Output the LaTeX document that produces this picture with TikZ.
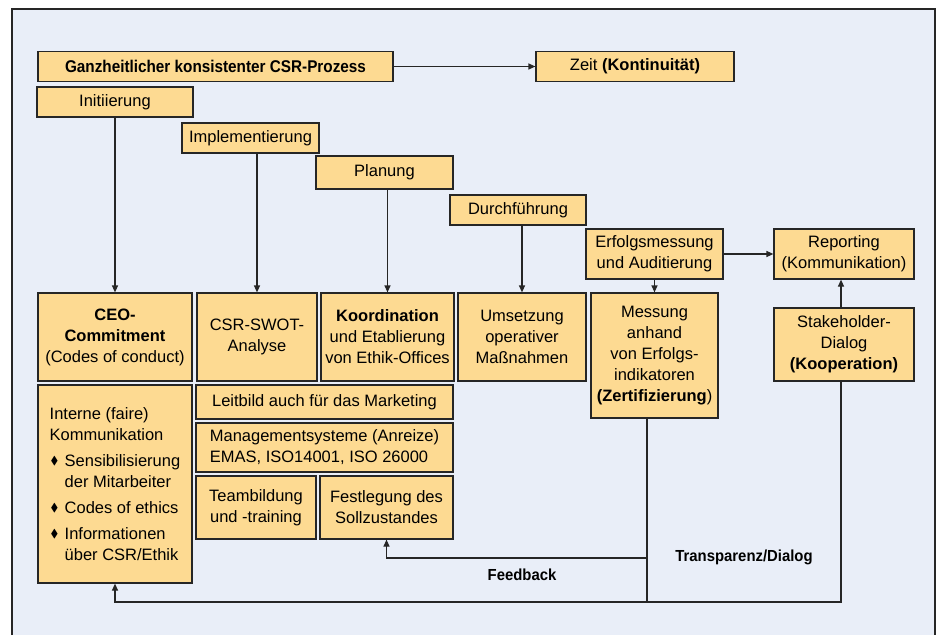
\documentclass[tikz,border=0pt]{standalone}
\usepackage{amssymb}
\usepackage{fontspec}
\setmainfont{Liberation Sans}
\usetikzlibrary{arrows.meta}
\definecolor{csrbg}{HTML}{E9EEF8}
\definecolor{boxfill}{HTML}{FDDA92}
\definecolor{ink}{HTML}{262626}
\newcommand{\csrbullet}{\makebox[15pt][l]{\hspace{1pt}\raisebox{1.5pt}{$\scriptstyle\blacklozenge$}}}

\begin{document}
\begin{tikzpicture}[x=1pt,y=-1pt,>={Triangle[length=7pt,width=6pt]}]
 \tikzstyle{stagebox}=[rectangle,draw=ink,line width=1.2pt,fill=boxfill,inner sep=2pt,align=center,font=\fontsize{16.5}{21}\selectfont,text=black]
 \tikzstyle{flowline}=[draw=ink,line width=1.2pt]
 \tikzstyle{notelabel}=[font=\fontsize{16}{20}\selectfont\bfseries\addfontfeature{FakeStretch=0.93},text=black]
 \useasboundingbox (0,0) rectangle (937,635);
 \fill[csrbg] (12,9) rectangle (935,635);
 \draw[ink,line width=1.3pt] (12,635) -- (12,9) -- (935,9) -- (935,635);
 \node[stagebox,minimum width=355pt,minimum height=30pt,font=\fontsize{17}{21}\selectfont\bfseries\addfontfeature{FakeStretch=0.9}] (prozess) at (215.5,66.5) {Ganzheitlicher konsistenter CSR-Prozess};
 \node[stagebox,minimum width=198pt,minimum height=30pt] (zeit) at (635,66.5) {Zeit \textbf{(Kontinuität)}};
 \node[stagebox,minimum width=156pt,minimum height=30pt] (init) at (115,102) {Initiierung};
 \node[stagebox,minimum width=137pt,minimum height=30pt] (impl) at (250.5,138) {Implementierung};
 \node[stagebox,minimum width=137pt,minimum height=33pt] (plan) at (384.5,172.5) {Planung};
 \node[stagebox,minimum width=136pt,minimum height=30pt] (durch) at (518,210) {Durchführung};
 \node[stagebox,minimum width=137pt,minimum height=50pt] (erfolg) at (654.5,254) {Erfolgsmessung\\und Auditierung};
 \node[stagebox,minimum width=140pt,minimum height=50pt] (report) at (844,254) {Reporting\\(Kommunikation)};
 \node[stagebox,minimum width=154pt,minimum height=88pt] (ceo) at (115,337) {\textbf{CEO-}\\\textbf{Commitment}\\(Codes of conduct)};
 \node[stagebox,minimum width=120pt,minimum height=88pt] (swot) at (257,337) {CSR-SWOT-\\Analyse};
 \node[stagebox,minimum width=133pt,minimum height=88pt] (koord) at (387.5,337) {\textbf{Koordination}\\und Etablierung\\von Ethik-Offices};
 \node[stagebox,minimum width=128pt,minimum height=88pt] (umsetz) at (522,337) {Umsetzung\\operativer\\Maßnahmen};
 \node[stagebox,minimum width=127pt,minimum height=125pt] (messung) at (654.5,355.5) {Messung\\anhand\\von Erfolgs-\\indikatoren\\\textbf{(Zertifizierung})};
 \node[stagebox,minimum width=140pt,minimum height=73pt] (stake) at (844,344.5) {Stakeholder-\\Dialog\\\textbf{(Kooperation)}};
 \node[stagebox,minimum width=154pt,minimum height=198pt,align=left] (interne) at (115,484) {Interne (faire)\\Kommunikation\\[5pt]\csrbullet Sensibilisierung\\\hspace*{15pt}der Mitarbeiter\\[5pt]\csrbullet Codes of ethics\\[5pt]\csrbullet Informationen\\\hspace*{15pt}über CSR/Ethik};
 \node[stagebox,minimum width=257pt,minimum height=34pt] (leitbild) at (324.5,402) {Leitbild auch für das Marketing};
 \node[stagebox,minimum width=257pt,minimum height=49pt,align=left] (manage) at (324.5,447.5) {Managementsysteme (Anreize)\\EMAS, ISO14001, ISO 26000};
 \node[stagebox,minimum width=120pt,minimum height=63pt] (team) at (256,507.5) {Teambildung\\und -training};
 \node[stagebox,minimum width=133pt,minimum height=63pt] (fest) at (386.5,507.5) {Festlegung des\\Sollzustandes};
 \node[notelabel] (fbtext) at (522,575) {Feedback};
 \node[notelabel] (trtext) at (744,557) {Transparenz/Dialog};
 \coordinate (tdx) at (841,602);
 \coordinate (fbx) at (647,602);
 \coordinate (fbk) at (647,558);
 \draw[flowline,->] (prozess) -- (zeit);
 \draw[flowline,->] (init) -- (ceo);
 \draw[flowline,->] (impl.south -| swot.north) -- (swot.north);
 \draw[flowline,->] (plan.south -| koord.north) -- (koord.north);
 \draw[flowline,->] (durch.south -| umsetz.north) -- (umsetz.north);
 \draw[flowline,->] (erfolg) -- (messung);
 \draw[flowline,->] (erfolg) -- (report);
 \draw[flowline,->] (stake.north -| tdx) -- (report.south -| tdx);
 \draw[flowline,->] (stake.south -| tdx) -- (tdx) -| (interne.south);
 \draw[flowline] (messung.south -| fbx) -- (fbx);
 \draw[flowline,->] (fbk) -| (fest.south);
\end{tikzpicture}
\end{document}
